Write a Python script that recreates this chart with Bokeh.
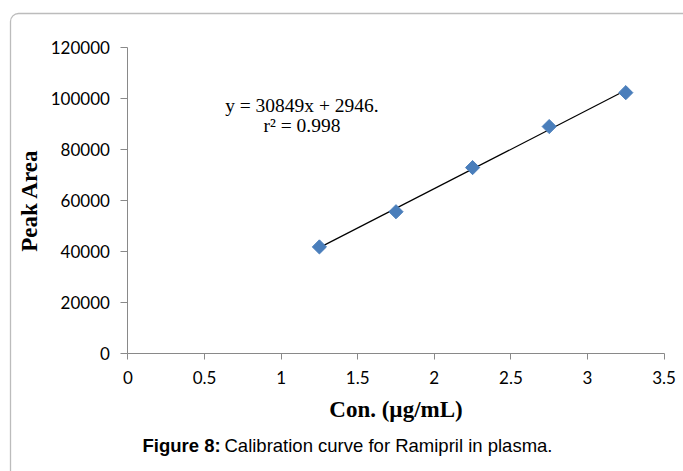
import numpy as np
from bokeh.plotting import figure
from bokeh.models import Label, BoxAnnotation, Range1d, FixedTicker
from bokeh.embed import file_html
from bokeh.resources import INLINE

# data
conc = [1.25, 1.75, 2.25, 2.75, 3.25]
peak_area = [41800, 55600, 72900, 89000, 102300]
slope = 30849
intercept = 2946
x_ticks = [0, 0.5, 1, 1.5, 2, 2.5, 3, 3.5]
y_ticks = [0, 20000, 40000, 60000, 80000, 100000, 120000]
eq_line1 = "y = 30849x + 2946."
eq_line2 = "r\u00b2 = 0.998"
caption_bold = "Figure 8:"
caption_text = "Calibration curve for Ramipril in plasma."
x_title = "Con. (\u00b5g/mL)"
y_title = "Peak Area"

# frame covers the whole canvas; axes are pinned at x=0 / y=0 inside it
W, H = 683, 471
x0_px, x_scale = 127.4, 153.2          # pixel of x=0, pixels per unit
y0_px, y_scale = 353.0, 306.0 / 120000  # pixel of y=0, pixels per unit

p = figure(width=W, height=H, output_backend="svg", toolbar_location=None,
           x_range=Range1d(-x0_px / x_scale, (W - x0_px) / x_scale),
           y_range=Range1d(-(H - y0_px) / y_scale, y0_px / y_scale),
           min_border=0)
p.background_fill_color = "white"
p.border_fill_color = "white"
p.outline_line_color = None
p.grid.visible = False

for ax, ticks in ((p.xaxis[0], x_ticks), (p.yaxis[0], y_ticks)):
    ax.ticker = FixedTicker(ticks=ticks)
    ax.bounds = (ticks[0], ticks[-1])
    ax.fixed_location = 0
    ax.axis_line_color = "#898989"
    ax.major_tick_line_color = "#898989"
    ax.minor_tick_line_color = None
    ax.major_tick_in = 0
    ax.major_label_text_font = "Lato"
    ax.major_label_text_font_size = "17px"
    ax.major_label_text_color = "black"
    ax.axis_label_text_font = "Liberation Serif"
    ax.axis_label_text_font_style = "bold"
    ax.axis_label_text_font_size = "23px"
    ax.axis_label_text_color = "black"

p.xaxis.major_tick_out = 6
p.yaxis.major_tick_out = 7
p.xaxis.major_label_standoff = 11
p.yaxis.major_label_standoff = 11
p.xaxis.axis_label = x_title
p.yaxis.axis_label = y_title
p.xaxis.axis_label_standoff = 10
p.yaxis.axis_label_standoff = 5
p.xaxis.major_label_overrides = {0: "0", 1: "1", 2: "2", 3: "3"}
p.yaxis.formatter.use_scientific = False

# trend line from regression
xs = [min(conc), max(conc)]
ys = [slope * x + intercept for x in xs]
p.line(xs, ys, line_color="black", line_width=1.2)

p.scatter(conc, peak_area, marker="square", angle=np.pi / 4, size=10,
          fill_color="#4A7EBB", line_color="#4A7EBB")

p.add_layout(Label(x=1.136, y=97300, text=eq_line1, text_align="center", text_baseline="alphabetic",
                   text_font="Liberation Serif", text_font_size="19.5px", text_color="black"))
p.add_layout(Label(x=1.136, y=89500, text=eq_line2, text_align="center", text_baseline="alphabetic",
                   text_font="Liberation Serif", text_font_size="19.5px", text_color="black"))

# caption below the chart
cap_y = -(445 - y0_px) / y_scale
p.add_layout(Label(x=(142 - x0_px) / x_scale, y=cap_y, text=caption_bold,
                   text_align="left", text_baseline="middle",
                   text_font="Liberation Sans", text_font_style="bold", text_font_size="18.5px",
                   text_color="black"))
p.add_layout(Label(x=(224 - x0_px) / x_scale, y=cap_y, text=caption_text,
                   text_align="left", text_baseline="middle",
                   text_font="Liberation Sans", text_font_size="18.5px", text_color="black"))

# rounded frame around the figure (right/bottom edges fall outside the window)
p.add_layout(BoxAnnotation(left=(10 - x0_px) / x_scale, right=(W + 40 - x0_px) / x_scale,
                           top=(y0_px - 13) / y_scale, bottom=-(H + 40 - y0_px) / y_scale,
                           fill_color=None, fill_alpha=0, line_color="#222222", line_width=1.3,
                           border_radius=8, level="overlay"))

open("out.html", "w").write(file_html(p, INLINE))
